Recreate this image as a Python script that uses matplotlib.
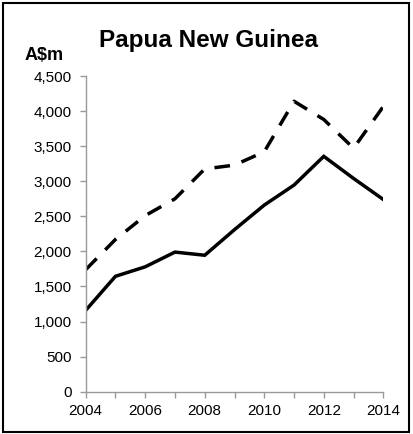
import numpy as np
import matplotlib
matplotlib.use("Agg")
import matplotlib.pyplot as plt
from matplotlib.ticker import FuncFormatter
from matplotlib.patches import Rectangle

plt.rcParams['font.family'] = ['Liberation Sans', 'DejaVu Sans']

years = np.arange(2004, 2015)
solid_vals = [1160, 1645, 1780, 1990, 1945, 2310, 2660, 2945, 3355, 3040, 2740]
dashed_vals = [1740, 2170, 2510, 2750, 3175, 3230, 3420, 4140, 3880, 3470, 4065]

fig = plt.figure(figsize=(4.13, 4.34), dpi=100)
ax = fig.add_axes([85.7 / 413, 1 - 391.7 / 434, (383.3 - 85.7) / 413, (391.7 - 76) / 434])

ax.plot(years, solid_vals, color='black', lw=2.5, solid_joinstyle='miter')
ax.plot(years, dashed_vals, color='black', lw=2.5, dashes=(4.5, 3.5))

ax.set_xlim(2004, 2014)
ax.set_ylim(0, 4500)
ax.set_yticks(np.arange(0, 4501, 500))
ax.set_xticks(np.arange(2004, 2015, 2))
ax.set_xticks(np.arange(2004, 2015, 1), minor=True)
ax.yaxis.set_major_formatter(FuncFormatter(lambda v, p: f"{int(v):,}"))

for s in ['top', 'right']:
    ax.spines[s].set_visible(False)
for s in ['left', 'bottom']:
    ax.spines[s].set_color('#999999')
    ax.spines[s].set_linewidth(1.0)
ax.tick_params(axis='both', which='both', direction='out', color='#999999',
               labelsize=11, length=4, width=1.0)
ax.tick_params(axis='y', pad=6)
ax.tick_params(axis='x', pad=5)

fig.text(208 / 413, 1 - 41 / 434, 'Papua New Guinea', ha='center', va='center',
         fontsize=17.5, fontweight='bold')
fig.text(44.5 / 413, 1 - 56 / 434, 'A$m', ha='center', va='center',
         fontsize=13, fontweight='bold')

fig.patches.append(Rectangle((3 / 413, 2 / 434), 406 / 413, 429 / 434,
                             transform=fig.transFigure, fill=False,
                             edgecolor='black', lw=1.5))

fig.savefig('out.png', dpi=100)
